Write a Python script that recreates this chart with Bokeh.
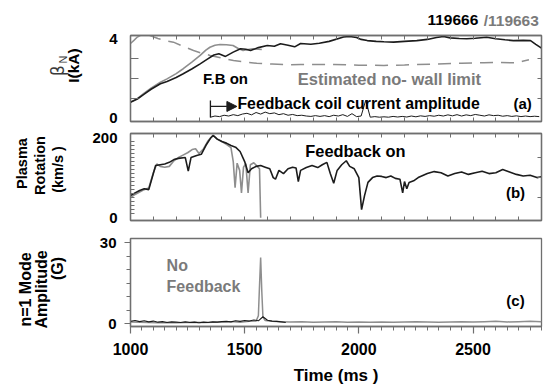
import math
from bokeh.plotting import figure
from bokeh.layouts import column, row
from bokeh.models import Label, LinearAxis, FixedTicker, Range1d, Arrow, NormalHead
from bokeh.embed import file_html
from bokeh.resources import INLINE

# ---------------- data ----------------
shot_fb = "119666"      # feedback on (black)
shot_nofb = "119663"    # no feedback (gray)
fb_on_ms = 1350         # feedback switched on

# (a) beta_N, shot with feedback
beta_fb_t = [1000, 1030, 1060, 1090, 1131, 1160, 1200, 1231, 1270, 1305, 1335, 1365, 1387, 1416,
             1450, 1482, 1505, 1526, 1560, 1599, 1630, 1657, 1690, 1719, 1745, 1790, 1827, 1870,
             1933, 1960, 1990, 2010, 2037, 2076, 2110, 2152, 2200, 2254, 2300, 2340, 2371, 2400,
             2440, 2473, 2510, 2560, 2600, 2640, 2677, 2720, 2752, 2775, 2800]
beta_fb = [0.79, 0.95, 1.2, 1.45, 1.73, 1.85, 2.05, 2.24, 2.5, 2.75, 2.98, 3.2, 3.27, 3.13,
           3.35, 3.52, 3.5, 3.43, 3.58, 3.69, 3.65, 3.78, 3.7, 3.62, 3.79, 3.75, 3.8, 3.9,
           4.12, 4.15, 4.1, 4.0, 3.94, 3.9, 3.88, 3.86, 3.9, 3.94, 4.0, 4.1, 4.15, 4.08,
           4.05, 4.03, 4.06, 4.11, 4.03, 3.98, 3.94, 3.95, 3.94, 3.75, 3.55]

# (a) beta_N, shot without feedback
beta_nofb_t = [1000, 1030, 1060, 1090, 1131, 1160, 1200, 1231, 1270, 1305, 1330, 1348, 1370,
               1392, 1420, 1449, 1470, 1493, 1515, 1536, 1560, 1575]
beta_nofb = [0.79, 0.97, 1.25, 1.5, 1.81, 1.98, 2.25, 2.5, 2.85, 3.18, 3.45, 3.6, 3.7,
             3.74, 3.73, 3.69, 3.55, 3.43, 3.48, 3.52, 3.5, 3.48]

# (a) estimated no-wall beta limit
limit_t = [1000, 1015, 1030, 1050, 1080, 1120, 1160, 1188, 1230, 1276, 1310, 1349, 1400, 1451,
           1500, 1553, 1620, 1686, 1745, 1820, 1891, 1950, 2000, 2110, 2200, 2329, 2450, 2548,
           2620, 2695, 2717, 2745]
limit = [3.79, 3.95, 4.12, 4.25, 4.22, 4.05, 3.92, 3.86, 3.65, 3.43, 3.3, 3.18, 3.05, 2.92,
         2.85, 2.78, 2.74, 2.7, 2.72, 2.72, 2.72, 2.7, 2.68, 2.67, 2.69, 2.74, 2.78, 2.81,
         2.82, 2.8, 2.88, 2.96]

# (a) feedback coil current amplitude (sampled every 20 ms from switch-on)
coil_t = list(range(1350, 2800, 20))
coil_amp = [0.02, 0.08, 0.05, 0.12, 0.08, 0.15, 0.1, 0.18, 0.22, 0.14,
            0.26, 0.18, 0.28, 0.2, 0.24, 0.15, 0.2, 0.12, 0.16, 0.1,
            0.12, 0.08, 0.06, 0.1, 0.06, 0.1, 0.05, 0.12, 0.08, 0.15,
            0.06, 0.2, 0.05, 0.08, 0.88, 0.02, 0.05, 0.02, 0.04, 0.02,
            0.06, 0.03, 0.06, 0.03, 0.08, 0.04, 0.09, 0.06, 0.1, 0.07,
            0.12, 0.08, 0.14, 0.09, 0.15, 0.08, 0.14, 0.1, 0.16, 0.12,
            0.08, 0.14, 0.1, 0.12, 0.07, 0.1, 0.06, 0.09, 0.05, 0.08,
            0.05, 0.07, 0.05]

# (b) plasma rotation (km/s)
rot_fb_t = [1000, 1020, 1040, 1060, 1080, 1100, 1110, 1130, 1150, 1170, 1190, 1210, 1240, 1253,
            1265, 1290, 1310, 1330, 1350, 1362, 1380, 1400, 1420, 1440, 1460, 1480, 1500, 1515,
            1530, 1550, 1570, 1590, 1610, 1625, 1635, 1650, 1670, 1690, 1710, 1725, 1735, 1745,
            1770, 1795, 1820, 1840, 1860, 1875, 1890, 1905, 1925, 1945, 1960, 1980, 2000, 2012,
            2025, 2040, 2060, 2080, 2100, 2120, 2140, 2160, 2180, 2192, 2200, 2210, 2220, 2240,
            2260, 2280, 2300, 2330, 2360, 2390, 2420, 2450, 2480, 2510, 2540, 2570, 2600, 2630,
            2660, 2690, 2720, 2750, 2780, 2800]
rot_fb = [55, 62, 68, 72, 70, 110, 130, 132, 134, 138, 145, 148, 150, 116,
          150, 155, 158, 180, 198, 205, 196, 190, 186, 180, 176, 165, 140, 112,
          122, 128, 130, 126, 122, 100, 96, 118, 110, 122, 126, 124, 90, 118,
          125, 130, 125, 132, 138, 110, 86, 118, 132, 142, 128, 122, 100, 20,
          55, 88, 100, 104, 103, 100, 104, 98, 96, 62, 90, 72, 88, 92,
          100, 105, 110, 115, 112, 104, 110, 114, 108, 112, 116, 110, 112, 120,
          114, 108, 104, 106, 100, 102]

rot_nofb_t = [1000, 1020, 1040, 1060, 1080, 1100, 1115, 1130, 1150, 1170, 1190, 1210, 1230,
              1250, 1270, 1285, 1300, 1320, 1340, 1362, 1380, 1400, 1420, 1440, 1450, 1458,
              1467, 1478, 1486, 1495, 1505, 1515, 1525, 1540, 1555, 1565, 1570]
rot_nofb = [50, 58, 64, 70, 74, 112, 134, 128, 126, 128, 142, 150, 156,
            162, 170, 172, 160, 172, 192, 206, 196, 190, 183, 175, 140, 75,
            136, 118, 62, 126, 135, 62, 132, 137, 128, 122, 0]

# (c) n=1 mode amplitude (G)
mode_fb_t = list(range(1000, 1700, 20))
mode_fb = [0.9, 1.2, 0.8, 1.1, 0.7, 1.0, 0.6, 0.8, 0.5, 0.7,
           0.6, 0.5, 0.7, 0.5, 0.6, 0.4, 0.6, 0.5, 0.7, 0.6,
           0.8, 0.9, 0.7, 1.1, 0.9, 1.2, 1.0, 1.4, 1.1, 2.6,
           1.3, 1.0, 0.9, 0.7, 0.5]

mode_nofb_t = [1000, 1040, 1080, 1120, 1160, 1200, 1240, 1280, 1320, 1360, 1400, 1440, 1480,
               1520, 1550, 1560, 1565, 1570, 1575, 1580, 1590, 1620, 1660, 1700, 1750, 1800,
               1850, 1900, 1950, 2000, 2050, 2100, 2150, 2200, 2250, 2300, 2350, 2400, 2450,
               2500, 2550, 2600, 2650, 2700, 2750, 2800]
mode_nofb = [0.7, 0.6, 0.5, 0.4, 0.5, 0.4, 0.5, 0.6, 0.5, 0.6, 0.7, 0.8, 0.6,
             0.9, 1.0, 3.0, 14.0, 24.5, 12.0, 2.5, 1.2, 0.9, 0.8, 0.7, 0.8, 0.6,
             0.7, 0.8, 0.6, 0.7, 0.6, 0.7, 0.6, 0.7, 0.8, 0.7, 0.6, 0.7, 0.8,
             0.7, 0.8, 0.9, 0.7, 0.8, 0.9, 0.8]

x_ticks = [1000, 1500, 2000, 2500]

# ---------------- styling ----------------
FONT = "Liberation Sans"
FRAME = "#6f6f6f"
BLACK = "#1c1c1c"
GRAY = "#8e8e8e"
GRAY_TXT = "#7a7a7a"

TITLE_W = 88            # strip holding the rotated y titles
TOP_H = 30              # strip holding the shot numbers
FRAME_W = 411
LEFT, RIGHT = 42, 15    # borders of the data panels
COL_W = LEFT + FRAME_W + RIGHT

x_range = Range1d(1000, 2800)


def blank_figure(w, h, x0, x1, y0, y1):
    # axis-less canvas whose data units are pixels (y grows downwards)
    p = figure(width=w, height=h, x_range=Range1d(x0, x1), y_range=Range1d(y1, y0),
               min_border=0, x_axis_location=None, y_axis_location=None,
               output_backend="svg", toolbar_location=None,
               background_fill_color="white", border_fill_color="white")
    p.grid.visible = False
    p.outline_line_color = None
    return p


def make_panel(frame_h, top, bottom, y_lo, y_hi, with_x_axis=False):
    p = figure(x_range=x_range, y_range=Range1d(y_lo, y_hi),
               frame_width=FRAME_W, frame_height=frame_h,
               min_border_left=LEFT, min_border_right=RIGHT,
               min_border_top=top, min_border_bottom=bottom,
               x_axis_location="below" if with_x_axis else None,
               output_backend="svg", toolbar_location=None,
               background_fill_color="white", border_fill_color="white")
    p.grid.visible = False
    p.outline_line_color = FRAME
    p.outline_line_width = 1.3
    return p


def style_axis(ax, size="15px"):
    ax.axis_line_color = FRAME
    ax.axis_line_width = 1.3
    ax.major_tick_line_color = FRAME
    ax.minor_tick_line_color = FRAME
    ax.major_tick_line_width = 1.2
    ax.minor_tick_line_width = 1.0
    ax.major_label_text_font = FONT
    ax.major_label_text_font_style = "bold"
    ax.major_label_text_color = "black"
    ax.major_label_text_font_size = size


def tick_only_axis(p, side, positions, length):
    # an edge axis carrying only (unlabelled) minor ticks that point inwards
    ax = LinearAxis(ticker=FixedTicker(ticks=[], minor_ticks=positions))
    style_axis(ax)
    ax.major_tick_in = ax.major_tick_out = 0
    ax.minor_tick_in, ax.minor_tick_out = length, 0
    ax.major_label_standoff = 0
    p.add_layout(ax, side)


def frame_ticks(p, y_major, y_minor, y_in_minor, right_ticks):
    xt = list(range(1000, 2801, 100))
    tick_only_axis(p, "below", xt, 4)
    tick_only_axis(p, "above", xt, 4)
    tick_only_axis(p, "right", right_ticks, 4)
    left = p.yaxis[0]
    left.ticker = FixedTicker(ticks=y_major, minor_ticks=y_minor)
    style_axis(left)
    left.major_tick_in = left.major_tick_out = 0
    left.minor_tick_in, left.minor_tick_out = y_in_minor, 0
    left.major_label_standoff = 13


def label(p, text, x, y, size, color="black", style="bold", font=FONT,
          align="center", angle=0.0):
    p.add_layout(Label(x=x, y=y, text=text, text_font=font,
                       text_font_size=f"{size}px", text_font_style=style,
                       text_color=color, text_align=align,
                       text_baseline="middle", angle=angle))


UP = math.pi / 2

# ---------------- shot numbers strip ----------------
top = blank_figure(COL_W, TOP_H, TITLE_W, TITLE_W + COL_W, 0, TOP_H)
label(top, shot_fb, 484, 19.5, 15.5, align="right")
label(top, "/" + shot_nofb, 553, 19.5, 15.5, align="right", color=GRAY_TXT)

# ---------------- panel (a) ----------------
pa = make_panel(86, 35 - TOP_H, 6, -0.2, 4.2)
frame_ticks(pa, [0, 4], [1, 2, 3], 8, [1, 2, 3])

pa.line(limit_t, limit, line_color=GRAY, line_width=1.5, line_dash="13 8")
pa.line(beta_nofb_t, beta_nofb, line_color=GRAY, line_width=1.6)
pa.line(beta_fb_t, beta_fb, line_color=BLACK, line_width=1.6)
pa.line(coil_t, coil_amp, line_color=BLACK, line_width=1.0)
pa.segment(x0=[fb_on_ms], y0=[0], x1=[fb_on_ms], y1=[0.88], line_color=BLACK, line_width=1.3)
pa.add_layout(Arrow(end=NormalHead(size=10, fill_color=BLACK, line_color=BLACK),
                    x_start=fb_on_ms, y_start=0.57, x_end=1466, y_end=0.57,
                    line_color=BLACK, line_width=1.3))

label(pa, "F.B on", 1416, 2.0, 15)
label(pa, "Estimated no- wall limit", 2134, 1.95, 16.5, color=GRAY_TXT)
label(pa, "Feedback coil current amplitude", 1999, 0.72, 15.8)
label(pa, "(a)", 2717, 0.72, 15)

# ---------------- panel (b) ----------------
pb = make_panel(87, 6, 9, -7, 210)
frame_ticks(pb, [0, 200], list(range(10, 200, 10)), 4, [50, 100, 150])

pb.line(rot_nofb_t, rot_nofb, line_color=GRAY, line_width=1.6)
pb.line(rot_fb_t, rot_fb, line_color=BLACK, line_width=1.6)

label(pb, "Feedback on", 1985, 167, 16.4)
label(pb, "(b)", 2686, 63, 15)

# ---------------- panel (c) ----------------
pc = make_panel(88, 9, 66, -1, 31.5, with_x_axis=True)
ax = pc.xaxis[0]
ax.ticker = FixedTicker(ticks=x_ticks, minor_ticks=list(range(1000, 2801, 50)))
style_axis(ax, size="16px")
ax.major_tick_in, ax.major_tick_out = 0, 7
ax.minor_tick_in, ax.minor_tick_out = 0, 4
ax.major_label_standoff = 9
ax.axis_label = "Time (ms )"
ax.axis_label_text_font = FONT
ax.axis_label_text_font_style = "bold"
ax.axis_label_text_font_size = "17px"
ax.axis_label_text_color = "black"
ax.axis_label_standoff = 8

ay = pc.yaxis[0]
ay.ticker = FixedTicker(ticks=[0, 30], minor_ticks=[5, 10, 15, 20, 25])
style_axis(ay)
ay.major_tick_in, ay.major_tick_out = 0, 6
ay.minor_tick_in, ay.minor_tick_out = 0, 4
ay.major_label_standoff = 8

pc.line(mode_nofb_t, mode_nofb, line_color=GRAY, line_width=1.5)
pc.line(mode_fb_t, mode_fb, line_color=BLACK, line_width=1.1)

label(pc, "No", 1158, 21.5, 16, color=GRAY_TXT, align="left")
label(pc, "Feedback", 1158, 13.8, 16, color=GRAY_TXT, align="left")
label(pc, "(c)", 2686, 8.6, 15)

# ---------------- rotated y titles ----------------
side = blank_figure(TITLE_W, 392, 0, TITLE_W, 0, 392)
label(side, "β", 57, 70, 17, style="normal", font="DejaVu Sans", angle=UP, color="#3a3a3a")
label(side, "N", 62, 59, 11, style="normal", angle=UP, color="#3a3a3a")
label(side, "I(kA)", 73, 65, 15.5, angle=UP)

label(side, "Plasma", 21, 163, 14.5, angle=UP)
label(side, "Rotation", 39, 165, 14.5, angle=UP)
label(side, "(km/s )", 57, 169, 14.5, angle=UP)

label(side, "n=1 Mode", 25, 289, 16, angle=UP)
label(side, "Amplitude", 41, 289, 16, angle=UP)
label(side, "(G)", 57, 268, 16, angle=UP)

layout = row(side, column(top, pa, pb, pc, spacing=0), spacing=0)
open("out.html", "w").write(file_html(layout, INLINE))
